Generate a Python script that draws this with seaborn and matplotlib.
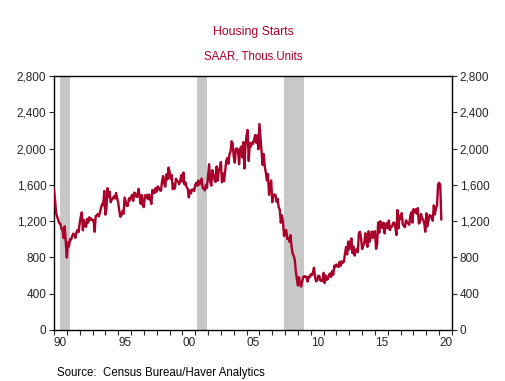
import numpy as np
import pandas as pd
import matplotlib
matplotlib.use("Agg")
import matplotlib.pyplot as plt
import matplotlib.ticker as mticker
import seaborn as sns

# Housing starts, SAAR, thous. units (monthly, Jan 1990 - Mar 2020)
starts_1990s = [
    1551, 1437, 1289, 1248, 1212, 1177, 1171, 1115, 1110, 1014, 1145, 969,
    798, 965, 921, 1001, 996, 1036, 1063, 1049, 1015, 1079, 1103, 1079,
    1176, 1250, 1297, 1099, 1214, 1145, 1139, 1226, 1186, 1244, 1214, 1227,
    1210, 1210, 1083, 1258, 1260, 1280, 1254, 1300, 1343, 1392, 1376, 1533,
    1272, 1337, 1564, 1465, 1526, 1409, 1439, 1450, 1474, 1450, 1511, 1455,
    1407, 1316, 1249, 1267, 1314, 1281, 1461, 1416, 1369, 1369, 1452, 1431,
    1467, 1491, 1424, 1516, 1504, 1467, 1472, 1557, 1475, 1392, 1489, 1370,
    1355, 1486, 1457, 1492, 1442, 1494, 1437, 1390, 1546, 1520, 1510, 1566,
    1525, 1584, 1567, 1540, 1536, 1641, 1698, 1614, 1582, 1715, 1660, 1792,
    1748, 1670, 1710, 1553, 1611, 1559, 1669, 1648, 1635, 1608, 1648, 1708,
]
starts_2000s = [
    1636, 1737, 1604, 1626, 1575, 1559, 1463, 1541, 1507, 1549, 1551, 1532,
    1600, 1625, 1590, 1649, 1605, 1636, 1670, 1567, 1562, 1540, 1602, 1568,
    1698, 1829, 1642, 1592, 1764, 1717, 1655, 1633, 1804, 1648, 1753, 1788,
    1853, 1629, 1726, 1643, 1751, 1867, 1897, 1833, 1939, 1967, 2083, 2057,
    1911, 1846, 1998, 2003, 1981, 1828, 2002, 2024, 1905, 2072, 1782, 2042,
    2144, 2207, 1864, 2061, 2025, 2068, 2054, 2095, 2151, 2065, 2147, 1994,
    2273, 2119, 1969, 1821, 1942, 1802, 1737, 1650, 1720, 1491, 1570, 1649,
    1409, 1480, 1495, 1490, 1415, 1448, 1354, 1330, 1183, 1264, 1197, 1037,
    1084, 1103, 1005, 1013, 973, 1046, 923, 844, 820, 777, 652, 560,
    490, 582, 505, 478, 540, 585, 594, 586, 585, 534, 588, 581,
]
starts_2010s = [
    614, 604, 636, 687, 583, 536, 546, 599, 594, 543, 545, 539,
    630, 517, 600, 554, 561, 608, 623, 585, 650, 610, 711, 694,
    723, 704, 695, 753, 708, 757, 741, 754, 847, 915, 833, 976,
    888, 962, 1010, 847, 920, 821, 871, 895, 858, 1074, 1083, 1010,
    893, 928, 958, 1067, 996, 917, 1089, 972, 1032, 1086, 1014, 1082,
    1090, 895, 943, 1187, 1072, 1200, 1147, 1123, 1184, 1065, 1157, 1178,
    1121, 1207, 1102, 1146, 1141, 1182, 1184, 1137, 1048, 1324, 1121, 1262,
    1230, 1289, 1164, 1150, 1133, 1210, 1180, 1181, 1160, 1258, 1299, 1184,
    1333, 1300, 1331, 1282, 1345, 1174, 1187, 1280, 1237, 1214, 1180, 1083,
    1287, 1141, 1207, 1267, 1261, 1241, 1206, 1375, 1275, 1340, 1375, 1608,
    1624, 1599, 1216,
]
starts = starts_1990s + starts_2000s + starts_2010s

# NBER recessions (start month, end month)
recessions = [("1990-07", "1991-03"), ("2001-03", "2001-11"), ("2007-12", "2009-06")]

yticks = [0, 400, 800, 1200, 1600, 2000, 2400, 2800]
year_labels = ["90", "95", "00", "05", "10", "15", "20"]

red = "#A8002A"


def dec_year(d):
    d = pd.Timestamp(d)
    return d.year + (d.month - 1) / 12


dates = pd.date_range("1990-01-01", periods=len(starts), freq="MS")
df = pd.DataFrame({"t": dates.year + (dates.month - 1) / 12, "starts": starts})

sns.set_style("ticks")
plt.rcParams["font.family"] = ["Liberation Sans", "DejaVu Sans"]

fig = plt.figure(figsize=(5.06, 3.81), dpi=100)
ax = fig.add_axes([0.1067, 0.134, 0.7866, 0.666])

for s, e in recessions:
    ax.axvspan(dec_year(s), dec_year(e) + 1 / 12, color="#C8C8C8", lw=0, zorder=0)

sns.lineplot(data=df, x="t", y="starts", color=red, lw=1.7, ax=ax, zorder=3)

ax.set_xlim(1990, 2021)
ax.set_ylim(0, 2800)
ax.set_yticks(yticks)
ax.yaxis.set_major_formatter(mticker.FuncFormatter(lambda v, p: f"{int(v):,}"))

# year ticks, labels centred in the middle of each labelled year
ax.xaxis.set_minor_locator(mticker.MultipleLocator(1))
ax.set_xticks([1990.5 + 5 * i for i in range(len(year_labels))])
ax.set_xticklabels(year_labels)
ax.tick_params(axis="x", which="major", length=0, pad=5, labelsize=8.5)
ax.tick_params(axis="x", which="minor", length=3.5, width=0.8, direction="out")
ax.tick_params(axis="y", which="major", length=3.5, width=0.8, direction="out",
               left=True, right=True, labelleft=True, labelright=True, labelsize=8.5, pad=2)

for sp in ax.spines.values():
    sp.set_visible(True)
    sp.set_linewidth(1.0)
    sp.set_color("black")

ax.set_xlabel("")
ax.set_ylabel("")

fig.text(0.5, 0.917, "Housing Starts", ha="center", va="center", color=red, fontsize=8.8)
fig.text(0.5, 0.853, "SAAR, Thous.Units", ha="center", va="center", color=red, fontsize=8.3)
fig.text(0.112, 0.021, "Source:  Census Bureau/Haver Analytics", ha="left", va="center",
         color="black", fontsize=8.3)

fig.savefig("out.png", dpi=100, facecolor="white")
